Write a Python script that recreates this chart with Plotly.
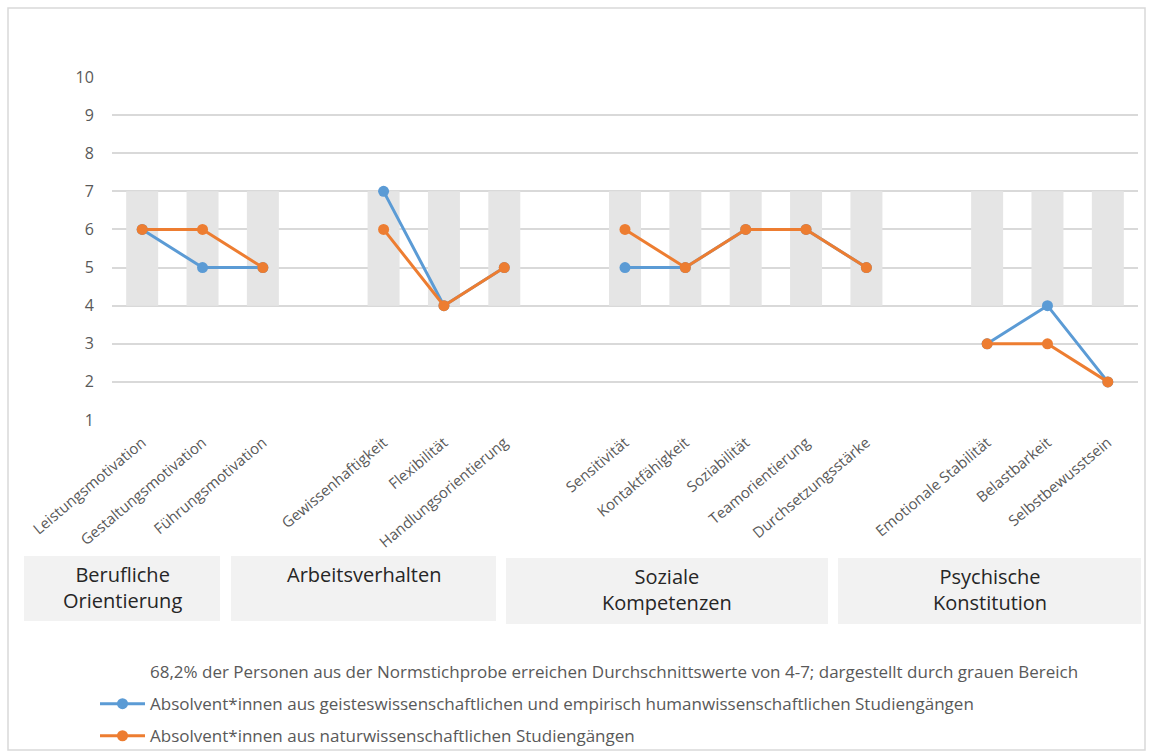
import plotly.graph_objects as go

# ---------------- data ----------------
groups = ["Berufliche<br>Orientierung", "Arbeitsverhalten", "Soziale<br>Kompetenzen", "Psychische<br>Konstitution"]
group_items = [
    ["Leistungsmotivation", "Gestaltungsmotivation", "Führungsmotivation"],
    ["Gewissenhaftigkeit", "Flexibilität", "Handlungsorientierung"],
    ["Sensitivität", "Kontaktfähigkeit", "Soziabilität", "Teamorientierung", "Durchsetzungsstärke"],
    ["Emotionale Stabilität", "Belastbarkeit", "Selbstbewusstsein"],
]
geistes = [6, 5, 5, 7, 4, 5, 5, 5, 6, 6, 5, 3, 4, 2]
natur = [6, 6, 5, 6, 4, 5, 6, 5, 6, 6, 5, 3, 3, 2]
norm_low, norm_high = 4, 7
y_ticks = list(range(1, 11))

name_norm = "68,2% der Personen aus der Normstichprobe erreichen Durchschnittswerte von 4-7; dargestellt durch grauen Bereich"
name_geistes = "Absolvent*innen aus geisteswissenschaftlichen und empirisch humanwissenschaftlichen Studiengängen"
name_natur = "Absolvent*innen aus naturwissenschaftlichen Studiengängen"

# ---------------- layout helpers ----------------
W, H = 1151, 753
PL, PR, PT, PB = 112, 1138, 77, 420  # plot area in pixels


def fx(px):
    return (px - PL) / (PR - PL)


def fy(py):
    return (PB - py) / (PB - PT)


# build slot positions with one empty slot between groups
xs, labels, grp_of = [], [], []
slot = 0
for gi, items in enumerate(group_items):
    for it in items:
        xs.append(slot)
        labels.append(it)
        grp_of.append(gi)
        slot += 1
    slot += 1
last_slot = xs[-1]


def with_gaps(vals):
    X, Y = [], []
    prev_g = None
    for x, v, g in zip(xs, vals, grp_of):
        if prev_g is not None and g != prev_g:
            X.append(x - 1)
            Y.append(None)
        X.append(x)
        Y.append(v)
        prev_g = g
    return X, Y


BLUE = "#5b9bd5"
ORANGE = "#ed7d31"
GRAY = "#595959"
FONT = "Open Sans"

fig = go.Figure()

fig.add_trace(go.Bar(
    x=xs, y=[norm_high - norm_low] * len(xs), base=[norm_low] * len(xs),
    width=0.53, marker=dict(color="#e5e5e5", line=dict(width=0)),
    showlegend=False, hoverinfo="skip",
))

# legend-only entry for the grey band
fig.add_trace(go.Scatter(
    x=[None], y=[None], mode="lines", line=dict(color="rgba(0,0,0,0)", width=3),
    name=name_norm, legendgroup="a", showlegend=True,
))

bx, by = with_gaps(geistes)
fig.add_trace(go.Scatter(
    x=bx, y=by, mode="lines+markers", name=name_geistes, legendgroup="b",
    line=dict(color=BLUE, width=3), marker=dict(color=BLUE, size=11),
    connectgaps=False,
))
ox, oy = with_gaps(natur)
fig.add_trace(go.Scatter(
    x=ox, y=oy, mode="lines+markers", name=name_natur, legendgroup="c",
    line=dict(color=ORANGE, width=3), marker=dict(color=ORANGE, size=11),
    connectgaps=False,
))

shapes = []
annotations = []
# outer border
shapes.append(dict(type="rect", xref="paper", yref="paper",
                   x0=fx(8), x1=fx(1145), y0=fy(750), y1=fy(8),
                   line=dict(color="#d9d9d9", width=1.5), fillcolor="rgba(0,0,0,0)", layer="below"))

# group boxes
boxes = [(24, 220, 556, 621), (231, 496, 556, 621), (506, 828, 558, 624), (838, 1141, 558, 624)]
for (x0, x1, y0, y1), g in zip(boxes, groups):
    shapes.append(dict(type="rect", xref="paper", yref="paper",
                       x0=fx(x0), x1=fx(x1), y0=fy(y1), y1=fy(y0),
                       line=dict(width=0), fillcolor="#f2f2f2", layer="below"))
    annotations.append(dict(xref="paper", yref="paper", x=fx((x0 + x1) / 2), y=fy(y0 + 3),
                            xanchor="center", yanchor="top", text=g, showarrow=False,
                            font=dict(family=FONT, size=20, color="#262626"), align="center"))

fig.update_layout(
    width=W, height=H,
    margin=dict(l=PL, r=W - PR, t=PT, b=H - PB, pad=0, autoexpand=False),
    paper_bgcolor="white", plot_bgcolor="white",
    barmode="overlay",
    font=dict(family=FONT, color=GRAY),
    xaxis=dict(range=[-0.5, last_slot + 0.5], tickmode="array", tickvals=xs, ticktext=labels,
               tickangle=-40, tickfont=dict(family=FONT, size=15, color=GRAY),
               showgrid=False, zeroline=False, showline=False, ticks="",
               ticklabelstandoff=10),
    yaxis=dict(range=[1, 10], tickmode="array", tickvals=y_ticks,
               tickfont=dict(family=FONT, size=16, color=GRAY),
               showgrid=True, gridcolor="#d9d9d9", gridwidth=1.5, zeroline=False,
               showline=False, ticks="outside", ticklen=14, tickcolor="rgba(0,0,0,0)"),
    legend=dict(x=fx(95), y=fy(654), xanchor="left", yanchor="top", orientation="v",
                traceorder="grouped", tracegroupgap=7, itemwidth=45,
                font=dict(family=FONT, size=17, color=GRAY), bgcolor="rgba(0,0,0,0)"),
    shapes=shapes, annotations=annotations,
)

fig.write_html("out.html")
